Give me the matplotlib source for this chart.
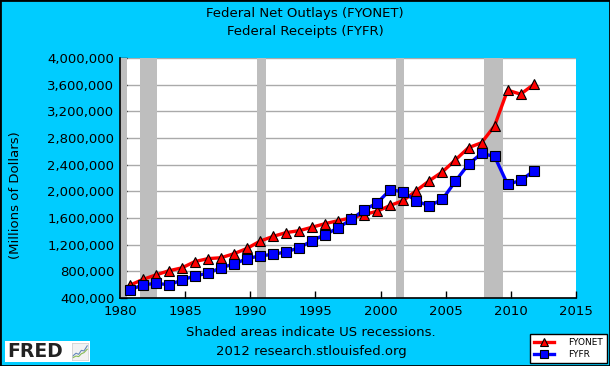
import matplotlib
matplotlib.use("Agg")
import matplotlib.pyplot as plt
from matplotlib.patches import Rectangle
from matplotlib.ticker import FuncFormatter, MultipleLocator

plt.rcParams['font.family'] = ['DejaVu Sans']

# Fiscal years (plotted at year + 0.75)
years = list(range(1980, 2012))
outlays = [590941, 678241, 745743, 808364, 851805, 946344, 990382, 1004017,
           1064416, 1143744, 1252993, 1324226, 1381529, 1409386, 1461752,
           1515742, 1560484, 1601116, 1652458, 1701842, 1788950, 1862846,
           2010894, 2159899, 2292841, 2471957, 2655050, 2728686, 2982544,
           3517677, 3457079, 3603059]
receipts = [517112, 599272, 617766, 600562, 666438, 734037, 769155, 854288,
            909238, 991105, 1031958, 1054988, 1091208, 1154335, 1258566,
            1351790, 1453053, 1579232, 1721728, 1827452, 2025191, 1991082,
            1853136, 1782314, 1880114, 2153611, 2406869, 2567985, 2523991,
            2104989, 2162706, 2303466]
recessions = [(1980.0, 1980.5), (1981.5, 1982.83), (1990.5, 1991.17),
              (2001.17, 2001.83), (2007.92, 2009.42)]
x_ticks = [1980, 1985, 1990, 1995, 2000, 2005, 2010, 2015]
title_lines = ["Federal Net Outlays (FYONET)", "Federal Receipts (FYFR)"]

BG = '#00CCFF'
fig = plt.figure(figsize=(6.1, 3.66), dpi=100, facecolor=BG)
ax = fig.add_axes([120/610, 68/366, 456/610, 240/366])
ax.set_facecolor('white')

ax.set_xlim(1980, 2015)
ax.set_ylim(400000, 4000000)
ax.yaxis.set_major_locator(MultipleLocator(400000))
ax.set_xticks(x_ticks)
ax.yaxis.set_major_formatter(FuncFormatter(lambda v, p: f"{int(v):,}"))
ax.grid(axis='y', color='#AAAAAA', linewidth=1.0, zorder=0)
ax.set_axisbelow(True)

for a, b in recessions:
    ax.axvspan(a, b, color='#BEBEBE', lw=0, zorder=1)

xs = [y + 0.75 for y in years]
ax.plot(xs, outlays, color='#FF0000', lw=2.4, marker='^', markersize=7.5,
        markerfacecolor='#FF0000', markeredgecolor='black', markeredgewidth=0.8,
        zorder=3, label='FYONET')
ax.plot(xs, receipts, color='#0000FF', lw=2.4, marker='s', markersize=6.5,
        markerfacecolor='#0000FF', markeredgecolor='black', markeredgewidth=0.8,
        zorder=4, label='FYFR')

for s in ['top', 'right']:
    ax.spines[s].set_visible(False)
for s in ['left', 'bottom']:
    ax.spines[s].set_color('black')
    ax.spines[s].set_linewidth(1.2)
    ax.spines[s].set_zorder(5)

ax.tick_params(axis='both', direction='in', length=5, width=1, color='black',
               labelsize=9.5, labelcolor='black')
ax.tick_params(axis='y', pad=4)
ax.tick_params(axis='x', pad=5)

fig.text(16/610, 1 - 195/366, '(Millions of Dollars)', rotation=90,
         ha='center', va='center', fontsize=9.5)

fig.text(0.5, 1 - 13/366, title_lines[0], ha='center', va='center', fontsize=9.5)
fig.text(0.5, 1 - 31/366, title_lines[1], ha='center', va='center', fontsize=9.5)
fig.text(311/610, 1 - 332/366, 'Shaded areas indicate US recessions.',
         ha='center', va='center', fontsize=9.5)
fig.text(311/610, 1 - 352/366, '2012 research.stlouisfed.org',
         ha='center', va='center', fontsize=9.5)

leg = fig.legend(loc='lower right', bbox_to_anchor=(607/610, 3/366),
                 borderaxespad=0, fontsize=6.5, frameon=True, fancybox=False,
                 framealpha=1, edgecolor='black', handlelength=2.2,
                 handletextpad=1.6, borderpad=0.45, labelspacing=0.3,
                 markerscale=0.85)
leg.get_frame().set_linewidth(1.0)

# FRED logo
logo_bg = fig.add_axes([5/610, 4/366, 85/610, 21/366], zorder=2)
logo_bg.set_facecolor('white')
logo_bg.set_xticks([]); logo_bg.set_yticks([])
for s in logo_bg.spines.values():
    s.set_visible(False)
fig.text(7/610, 14.5/366, 'FRED', fontsize=13.5, fontweight='bold', color='#222222',
         ha='left', va='center', zorder=5)
logo = fig.add_axes([72/610, 6/366, 16/610, 17/366], zorder=3)
logo.set_facecolor('#F2F2F2')
logo.set_xticks([]); logo.set_yticks([])
for s in logo.spines.values():
    s.set_color('#CCCCCC'); s.set_linewidth(0.5)
logo.set_xlim(0, 6); logo.set_ylim(0, 6)
logo.plot([0.3, 1.5, 2.5, 3.5, 4.5, 5.7], [1.4, 2.4, 2.0, 3.4, 3.2, 5.0], color='#6688BB', lw=0.8)
logo.plot([0.3, 1.5, 2.5, 3.5, 4.5, 5.7], [0.8, 1.4, 1.2, 2.2, 2.6, 3.8], color='#88BB55', lw=0.8)

# figure border
fig.patches.append(Rectangle((0, 0), 1, 1, transform=fig.transFigure, fill=False,
                             edgecolor='black', lw=2, zorder=10))

fig.savefig('out.png', dpi=100, facecolor=BG)
